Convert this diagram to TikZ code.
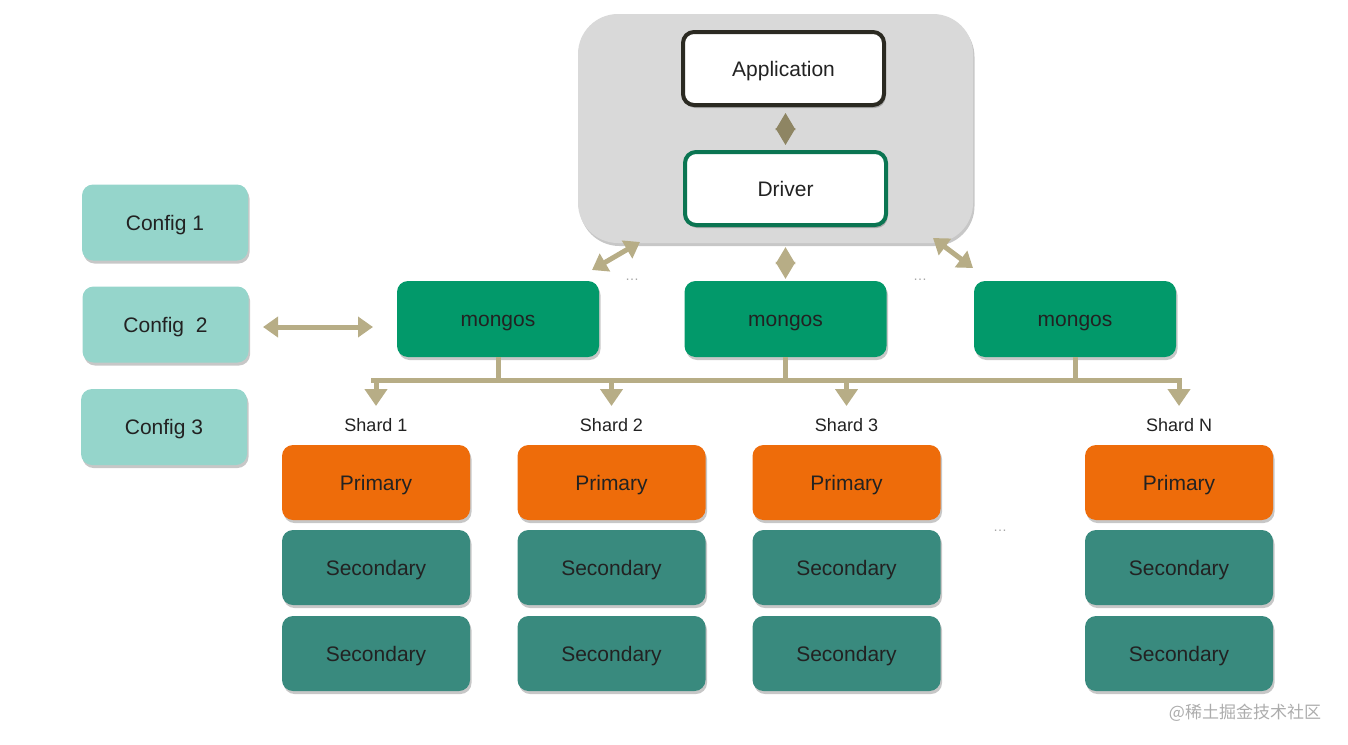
\documentclass[tikz,border=0pt]{standalone}
\usepackage{fontspec}
\setmainfont{Liberation Sans}
\newfontfamily\cjk{Noto Sans CJK SC}
\usetikzlibrary{arrows.meta,shadows,shapes.geometric}
\definecolor{tan}{HTML}{B7AD86}
\definecolor{tandark}{HTML}{8E8563}
\definecolor{greybox}{HTML}{D9D9D9}
\definecolor{appline}{HTML}{2B2A22}
\definecolor{drvline}{HTML}{0B7552}
\definecolor{mongosgreen}{HTML}{02996A}
\definecolor{configteal}{HTML}{95D5CB}
\definecolor{primorange}{HTML}{EE6C0A}
\definecolor{secteal}{HTML}{398A7E}
\definecolor{boxtext}{HTML}{222222}
\tikzset{
  shade/.style={drop shadow={shadow xshift=1.5pt, shadow yshift=-3pt, opacity=0.22, fill=black}},
  box/.style={rounded corners=11pt, minimum width=188pt, minimum height=75pt,
    text height=15pt, text depth=0pt,
    text=boxtext, font=\fontsize{21}{25}\selectfont, shade},
  prim/.style={box, fill=primorange},
  sec/.style={box, fill=secteal},
  mongos/.style={box, fill=mongosgreen, minimum width=202pt, minimum height=76pt},
  config/.style={box, fill=configteal, minimum width=166pt, minimum height=76pt},
  shardlabel/.style={font=\fontsize{18}{22}\selectfont, text=boxtext},
  dots/.style={text=gray!70, font=\fontsize{14}{16}\selectfont},
  twoway/.style={tan, line width=5pt, {Triangle[length=15pt,width=20pt]}-{Triangle[length=15pt,width=20pt]}},
  bus/.style={tan, line width=5pt},
  drop/.style={tan, line width=5pt, -{Triangle[length=17pt,width=22pt]}},
  diam/.style={line width=1pt, {Triangle[length=17pt,width=20pt]}-{Triangle[length=17pt,width=20pt]}}
}
\begin{document}
\begin{tikzpicture}[x=1pt, y=-1pt]
  \useasboundingbox (0,0) rectangle (1348,744);

  \node [rounded corners=40pt, fill=greybox, minimum width=395pt, minimum height=229pt, shade] (client) at (775.5,128.5) {};
  \node [box, fill=white, draw=appline, line width=4pt, minimum width=201pt, minimum height=73pt] (app) at (783.5,68.5) {Application};
  \node [box, fill=white, draw=drvline, line width=4pt, minimum width=201pt, minimum height=73pt, drop shadow={opacity=0}] (drv) at (785.5,188.5) {Driver};
  \draw [diam, tandark] ([yshift=-6pt]app.south -| drv.north) -- ([yshift=5pt]drv.north);

  \node [mongos] (m1) at (498,319) {mongos};
  \node [mongos] (m2) at (785.5,319) {mongos};
  \node [mongos] (m3) at (1075,319) {mongos};
  \node [dots] (d1) at (632,280) {\dots};
  \node [dots] (d2) at (920,280) {\dots};

  \draw [diam, tan] ([yshift=-4pt]client.south -| m2.north) -- ([yshift=2pt]m2.north);
  \coordinate (cl) at (640,242);
  \coordinate (ml) at (592,270);
  \coordinate (cr) at (933,238);
  \coordinate (mr) at (973,268);
  \draw [twoway] (cl) -- (ml);
  \draw [twoway] (cr) -- (mr);

  \node [config] (c1) at (165,222.5) {Config 1};
  \node [config] (c2) at (165.5,324.5) {Config\ \ 2};
  \node [config] (c3) at (164,427) {Config 3};
  \coordinate (cfgend) at (263,327);
  \coordinate (mgend) at (373,327);
  \draw [twoway] (cfgend) -- (mgend);

  \foreach \x/\n/\lbl in {376/1/Shard 1, 611.5/2/Shard 2, 846.5/3/Shard 3, 1179/4/Shard N} {
    \node [shardlabel] (s\n) at (\x,425) {\lbl};
    \node [prim] (p\n) at (\x,482.5) {Primary};
    \node [sec] (sa\n) at (\x,567.5) {Secondary};
    \node [sec] (sb\n) at (\x,653.5) {Secondary};
    \coordinate (b\n) at (\x,380);
    \draw [drop] (b\n) -- (\x,406);
  }
  \node [dots] (d3) at (1000,531) {\dots};

  \draw [bus] ([xshift=-5pt]b1) -- ([xshift=2.5pt]b4);
  \draw [bus] (m1.south) -- (m1.south |- b1);
  \draw [bus] (m2.south) -- (m2.south |- b1);
  \draw [bus] (m3.south) -- (m3.south |- b1);

  \node [text=gray!65, font=\cjk\fontsize{17}{20}\selectfont] (mark) at (1245,713) {@稀土掘金技术社区};
\end{tikzpicture}
\end{document}
